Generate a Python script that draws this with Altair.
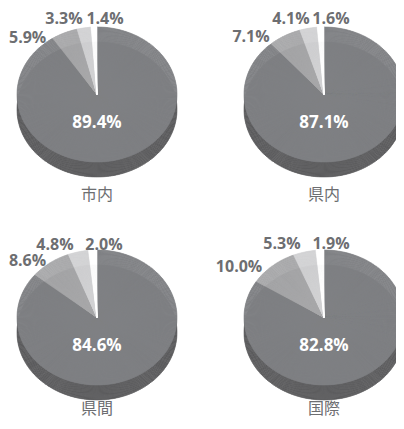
import altair as alt
import pandas as pd

# ---- data ----
PIE_NAMES = ["市内", "県内", "県間", "国際"]
SHINAI = [89.4, 5.9, 3.3, 1.4]
KENNAI = [87.1, 7.1, 4.1, 1.6]
KENKAN = [84.6, 8.6, 4.8, 2.0]
KOKUSAI = [82.8, 10.0, 5.3, 1.9]
SERIES = [SHINAI, KENNAI, KENKAN, KOKUSAI]

rows = []
for name, vals in zip(PIE_NAMES, SERIES):
    for i, v in enumerate(vals):
        rows.append({"pie": name, "order": i, "pct": v})
df = pd.DataFrame(rows)

# ---- styling / layout ----
COLORS = ["#808184", "#a7a8aa", "#d1d2d4", "#ffffff"]
SIDE = "#5b5b5d"
TXT = "#6d6e71"
A, B, H = 80, 67.5, 15          # ellipse semi-axes and depth of the 3D side
CENTERS = [(89, 86.5), (316, 86.5), (89, 309.5), (316, 309.5)]
NAME_Y = [187, 187, 401, 401]
LABEL_R = 70
LABEL_OFFSETS = [
    [(-37.0, 5.1), (-19.7, -6.8), (11.1, -5.6)],
    [(-34.5, 1.0), (-17.1, -7.3), (10.5, -5.6)],
    [(-24.5, -3.0), (-22.9, -5.2), (11.4, -2.6)],
    [(-36.4, -0.1), (-22.3, -6.3), (11.2, -3.6)],
]

theta_scale = alt.Scale(domain=[0, 100])
color_scale = alt.Scale(domain=[0, 1, 2, 3], range=COLORS)

base = alt.Chart(df)


def sub_slices(p):
    return (
        base.transform_filter(alt.datum.pie == p)
        .transform_joinaggregate(total="sum(pct)")
        .transform_calculate(n="ceil(datum.pct * 4)")
        .transform_calculate(ks="sequence(0, datum.n)")
        .transform_flatten(["ks"])
        .transform_calculate(w="datum.pct / datum.total * 100 / datum.n")
        .transform_window(cum="sum(w)", sort=[alt.SortField("order"), alt.SortField("ks")], frame=[None, 0])
        .transform_calculate(start="datum.cum - datum.w",
                             ang="(datum.cum - datum.w / 2) / 100 * 2 * PI")
        .transform_calculate(r=f"1 / sqrt(pow(sin(datum.ang) / {A}, 2) + pow(cos(datum.ang) / {B}, 2))")
    )


layers = []
for idx, p in enumerate(PIE_NAMES):
    cx, cy = CENTERS[idx]
    sl = sub_slices(p)
    # bottom (side) ellipse
    layers.append(
        sl.mark_arc(strokeWidth=0.6, strokeJoin="round").encode(
            x=alt.value(cx), y=alt.value(cy + H),
            theta=alt.Theta("start:Q", scale=theta_scale), theta2="cum:Q",
            radius=alt.Radius("r:Q", scale=None),
            color=alt.value(SIDE), stroke=alt.value(SIDE),
        )
    )
    # side band
    layers.append(
        base.transform_filter((alt.datum.pie == p) & (alt.datum.order == 0))
        .mark_rect(color=SIDE)
        .encode(x=alt.value(cx - A), x2=alt.value(cx + A), y=alt.value(cy), y2=alt.value(cy + H))
    )
    # top face slices
    layers.append(
        sl.mark_arc(strokeWidth=0.6, strokeJoin="round").encode(
            x=alt.value(cx), y=alt.value(cy),
            theta=alt.Theta("start:Q", scale=theta_scale), theta2="cum:Q",
            radius=alt.Radius("r:Q", scale=None),
            color=alt.Color("order:N", scale=color_scale, legend=None),
            stroke=alt.Stroke("order:N", scale=color_scale, legend=None),
        )
    )
    lab = (
        base.transform_filter(alt.datum.pie == p)
        .transform_joinaggregate(total="sum(pct)")
        .transform_window(cum="sum(pct)", sort=[alt.SortField("order")], frame=[None, 0])
        .transform_calculate(mid="(datum.cum - datum.pct / 2) / datum.total * 100",
                             label="format(datum.pct, '.1f') + '%'")
    )
    # inner label
    layers.append(
        lab.transform_filter(alt.datum.order == 0)
        .mark_text(dy=28, font="Open Sans", fontSize=17, fontWeight="bold", color="white",
                   align="center", baseline="middle")
        .encode(x=alt.value(cx), y=alt.value(cy), text="label:N")
    )
    # outer labels
    for k in range(1, 4):
        dx, dy = LABEL_OFFSETS[idx][k - 1]
        layers.append(
            lab.transform_filter(alt.datum.order == k)
            .mark_text(dx=dx, dy=dy, font="Open Sans", fontSize=16, fontWeight="bold", color=TXT,
                       align="center", baseline="middle")
            .encode(x=alt.value(cx), y=alt.value(cy),
                    theta=alt.Theta("mid:Q", scale=theta_scale),
                    radius=alt.value(LABEL_R), text="label:N")
        )
    # category name
    layers.append(
        base.transform_filter((alt.datum.pie == p) & (alt.datum.order == 0))
        .mark_text(font="Noto Sans CJK JP", fontSize=16, color=TXT, align="center", baseline="middle")
        .encode(x=alt.value(cx), y=alt.value(NAME_Y[idx]), text="pie:N")
    )

chart = (
    alt.layer(*layers)
    .properties(width=388, height=413, padding=0, autosize=alt.AutoSizeParams(type="none"),
                background="white")
    .configure_view(strokeWidth=0)
)

chart.save("out.html", embed_options={"renderer": "svg", "actions": False})
